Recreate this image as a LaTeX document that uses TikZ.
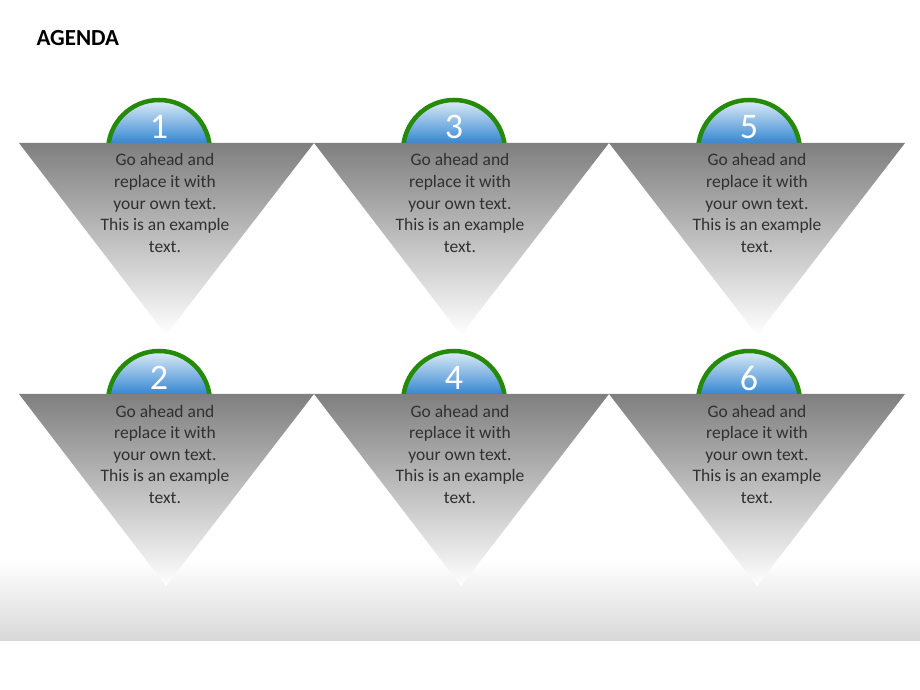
\documentclass[tikz,border=0pt]{standalone}
\usepackage{fontspec}
\setmainfont{Carlito}
\usepackage{tikz}
\usetikzlibrary{positioning,calc}

\definecolor{ringgreen}{HTML}{248A08}
\definecolor{balltop}{HTML}{E6F1FA}
\definecolor{ballbot}{HTML}{2A80CE}
\definecolor{tritop}{HTML}{7F7F7F}
\definecolor{bandgray}{HTML}{D8D8D8}
\definecolor{bodytext}{HTML}{303030}

\tikzset{
  ring/.style={draw=ringgreen, line width=4.5pt},
  balllight/.style={top color=balltop, bottom color=ballbot},
  tri/.style={top color=tritop, bottom color=white},
  num/.style={text=white, font=\fontsize{36}{36}\selectfont, inner sep=0pt},
  body/.style={text=bodytext, align=center, font=\fontsize{17.5}{21.5}\selectfont, inner sep=0pt}
}

\begin{document}
\begin{tikzpicture}[x=1pt, y=1pt]
    \useasboundingbox (0,0) rectangle (920,690);
    \fill[white] (0,0) rectangle (920,690);
    % band at the bottom
    \shade[top color=white, bottom color=bandgray] (0,49) rectangle (920,130);

    \node[anchor=west, font=\fontsize{23}{23}\selectfont\bfseries] (title) at (33,652) {AGENDA};

    % top row
    \foreach \cx in {159,454,749} {
      \begin{scope}
        \clip (\cx,539) circle (51);
        \shade[balllight] (\cx-51,592) rectangle (\cx+51,544);
      \end{scope}
      \draw[ring] (\cx,539) circle (51);
    }
    \shade[tri] (19,547) -- (314,547) -- (166,355) -- cycle;
    \shade[tri] (314,547) -- (609,547) -- (461,355) -- cycle;
    \shade[tri] (609,547) -- (905,547) -- (757,355) -- cycle;
    \node[num] (n1) at (159,563) {1};
    \node[num] (n3) at (454,563) {3};
    \node[num] (n5) at (749,563) {5};
    \node[body] (t1) at (165,487) {Go ahead and\\replace it with\\your own text.\\This is an example\\text.};
    \node[body] (t3) at (460,487) {Go ahead and\\replace it with\\your own text.\\This is an example\\text.};
    \node[body] (t5) at (757,487) {Go ahead and\\replace it with\\your own text.\\This is an example\\text.};

    % bottom row
    \foreach \cx in {159,454,749} {
      \begin{scope}
        \clip (\cx,288) circle (51);
        \shade[balllight] (\cx-51,341) rectangle (\cx+51,293);
      \end{scope}
      \draw[ring] (\cx,288) circle (51);
    }
    \shade[tri] (19,296) -- (314,296) -- (166,104) -- cycle;
    \shade[tri] (314,296) -- (609,296) -- (461,104) -- cycle;
    \shade[tri] (609,296) -- (905,296) -- (757,104) -- cycle;
    \node[num] (n2) at (159,312) {2};
    \node[num] (n4) at (454,312) {4};
    \node[num] (n6) at (749,312) {6};
    \node[body] (t2) at (165,236) {Go ahead and\\replace it with\\your own text.\\This is an example\\text.};
    \node[body] (t4) at (460,236) {Go ahead and\\replace it with\\your own text.\\This is an example\\text.};
    \node[body] (t6) at (757,236) {Go ahead and\\replace it with\\your own text.\\This is an example\\text.};
\end{tikzpicture}
\end{document}
